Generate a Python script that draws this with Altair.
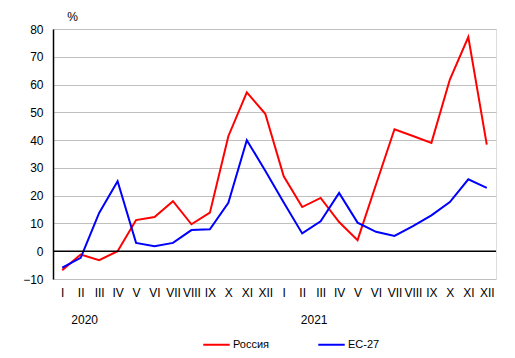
import altair as alt
import pandas as pd

months = ["I", "II", "III", "IV", "V", "VI", "VII", "VIII", "IX", "X", "XI", "XII"]
years = ["2020", "2021"]
russia = [-6.8, -1.2, -3.2, 0.0, 11.2, 12.3, 18.0, 9.7, 13.9, 41.4, 57.2, 49.5,
          27.0, 15.9, 19.2, 10.5, 4.0, 24.0, 43.9, 41.5, 39.0, 61.8, 77.1, 38.4]
eu27 = [-5.9, -2.4, 13.8, 25.2, 3.0, 1.8, 3.0, 7.6, 7.9, 17.4, 40.0, 29.0,
        17.5, 6.4, 10.8, 21.0, 10.3, 7.0, 5.5, 9.0, 12.9, 17.7, 25.9, 22.8]
y_ticks = [-10, 0, 10, 20, 30, 40, 50, 60, 70, 80]
series_names = ["Россия", "ЕС-27"]
series_colors = ["#ff0000", "#0000ff"]

keys = [f"{y}-{m}" for y in years for m in months]
rows = []
for k, r, e in zip(keys, russia, eu27):
    rows.append({"key": k, "series": series_names[0], "value": r})
    rows.append({"key": k, "series": series_names[1], "value": e})
df = pd.DataFrame(rows)

FONT = "Liberation Sans"

xscale = alt.Scale(type="point", padding=0.5, domain=keys)
yscale = alt.Scale(domain=[-10, 80], nice=False)

xenc = alt.X("key:N", sort=keys, scale=xscale,
             axis=alt.Axis(title=None, labelExpr="split(datum.label, '-')[1]",
                           labelAngle=0, ticks=False, domain=False, grid=False,
                           labelPadding=8, labelFontSize=12, labelColor="black",
                           labelFont=FONT, labelOverlap=False))

lines = alt.Chart(df).mark_line(strokeWidth=2).encode(
    x=xenc,
    y=alt.Y("value:Q", scale=yscale,
            axis=alt.Axis(values=y_ticks, tickCount=len(y_ticks), title="%",
                          titleAngle=0, titleX=19, titleY=-13,
                          titleAlign="center", titleBaseline="middle",
                          titleFontSize=12, titleFontWeight="normal",
                          titleFont=FONT, titleColor="black",
                          ticks=False, domainColor="black", domainWidth=1.5,
                          grid=True, gridColor="#c0c0c0", gridWidth=1,
                          labelOverlap=False,
                          labelPadding=10, labelFontSize=12, labelColor="black",
                          labelFont=FONT)),
    color=alt.Color("series:N", sort=series_names,
                    scale=alt.Scale(domain=series_names, range=series_colors),
                    legend=alt.Legend(title=None, orient="none", direction="horizontal",
                                      legendX=149, legendY=301,
                                      symbolType="stroke", symbolSize=700,
                                      symbolStrokeWidth=2, labelFontSize=11,
                                      labelFont=FONT, labelColor="black",
                                      labelOffset=2, columnPadding=44)),
)

zero = alt.Chart(pd.DataFrame({"value": [0]})).mark_rule(color="black", strokeWidth=1.5).encode(
    y=alt.Y("value:Q", scale=yscale))

year_df = pd.DataFrame({"key": ["2020-II", "2021-II"], "year": years})
y1 = alt.Chart(year_df.iloc[[0]]).mark_text(fontSize=12, font=FONT, color="black", dx=4).encode(
    x=alt.X("key:N", scale=xscale), y=alt.value(291), text="year:N")
y2 = alt.Chart(year_df.iloc[[1]]).mark_text(fontSize=12, font=FONT, color="black", dx=12).encode(
    x=alt.X("key:N", scale=xscale), y=alt.value(291), text="year:N")

chart = alt.layer(lines, zero, y1, y2).properties(
    width=443, height=250,
    autosize=alt.AutoSizeParams(type="none"),
    padding={"left": 45, "top": 21, "right": 11, "bottom": 75},
).configure_view(stroke=None).configure(font=FONT)

chart.save("out.html", embed_options={"renderer": "svg", "actions": False})
